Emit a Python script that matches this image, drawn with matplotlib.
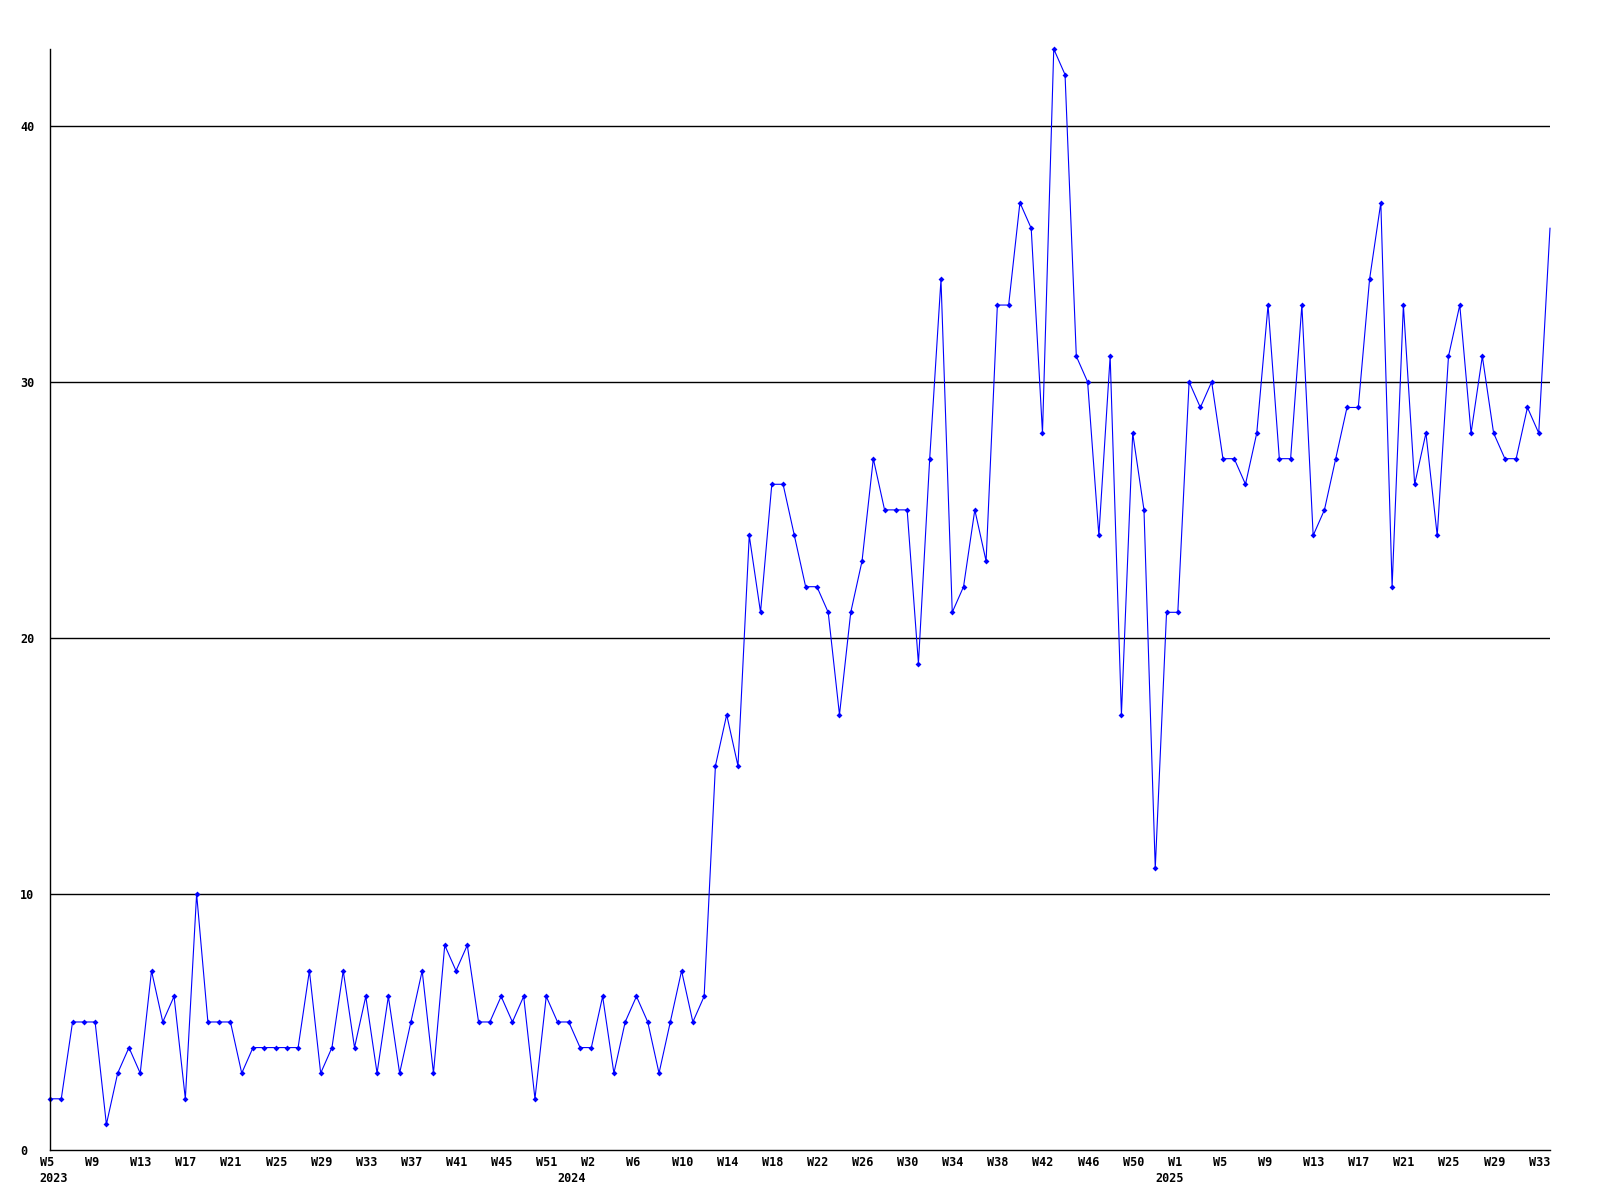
import matplotlib
matplotlib.use("Agg")
import matplotlib.pyplot as plt
from matplotlib.transforms import ScaledTranslation

# weekly counts, 2023 W5 .. 2025 W34
values = [
    2, 2, 5, 5, 5, 1, 3, 4, 3, 7, 5, 6, 2, 10, 5, 5, 5, 3, 4, 4,
    4, 4, 4, 7, 3, 4, 7, 4, 6, 3, 6, 3, 5, 7, 3, 8, 7, 8, 5, 5,
    6, 5, 6, 2, 6, 5, 5, 4, 4, 6, 3, 5, 6, 5, 3, 5, 7, 5, 6, 15,
    17, 15, 24, 21, 26, 26, 24, 22, 22, 21, 17, 21, 23, 27, 25, 25, 25, 19, 27, 34,
    21, 22, 25, 23, 33, 33, 37, 36, 28, 43, 42, 31, 30, 24, 31, 17, 28, 25, 11, 21,
    21, 30, 29, 30, 27, 27, 26, 28, 33, 27, 27, 33, 24, 25, 27, 29, 29, 34, 37, 22,
    33, 26, 28, 24, 31, 33, 28, 31, 28, 27, 27, 29, 28, 36,
]
week_labels = [
    "W5", "W9", "W13", "W17", "W21", "W25", "W29", "W33", "W37", "W41", "W45", "W51",
    "W2", "W6", "W10", "W14", "W18", "W22", "W26", "W30", "W34", "W38", "W42", "W46", "W50",
    "W1", "W5", "W9", "W13", "W17", "W21", "W25", "W29", "W33",
]
years = ["2023", "2024", "2025"]
year_pos = [-0.9, 45.0, 98.0]

font = {"family": "DejaVu Sans Mono", "weight": "bold", "size": 8.5}

x = list(range(len(values)))

fig = plt.figure(figsize=(16, 12), dpi=100)
ax = fig.add_axes([50/1600, 1 - 1150/1200, 1500/1600, 1101/1200])

# last point sits on the right edge with no marker
ax.plot(x, values, color="#0000ff", linewidth=0.8, marker="D", markersize=3,
        markeredgewidth=0, markevery=list(range(len(values) - 1)), clip_on=False)
ax.set_xlim(0, len(values) - 1)
ax.set_ylim(0, 43)

for side in ["top", "right"]:
    ax.spines[side].set_visible(False)
for side in ["left", "bottom"]:
    ax.spines[side].set_linewidth(1.0)

ax.set_yticks([0, 10, 20, 30, 40])
ax.set_yticklabels(["0", "10", "20", "30", "40"], **font)
for v in [10, 20, 30, 40]:
    ax.axhline(v, color="black", linewidth=1.0, zorder=0)
ax.tick_params(axis="y", length=0, pad=21.6)
for lab in ax.get_yticklabels():
    lab.set_ha("left")

ax.set_xticks(x[::4])
ax.set_xticklabels(week_labels, **font)
ax.tick_params(axis="x", length=0, pad=4.5)
shift = ScaledTranslation(-10/100, 0, fig.dpi_scale_trans)
for lab in ax.get_xticklabels():
    lab.set_ha("left")
    lab.set_transform(lab.get_transform() + shift)

for yr, pos in zip(years, year_pos):
    ax.annotate(yr, xy=(pos, 0), xycoords=("data", "axes fraction"),
                xytext=(0, -15.5), textcoords="offset points",
                ha="left", va="top", **font)

fig.savefig("out.png", dpi=100, facecolor="white")
